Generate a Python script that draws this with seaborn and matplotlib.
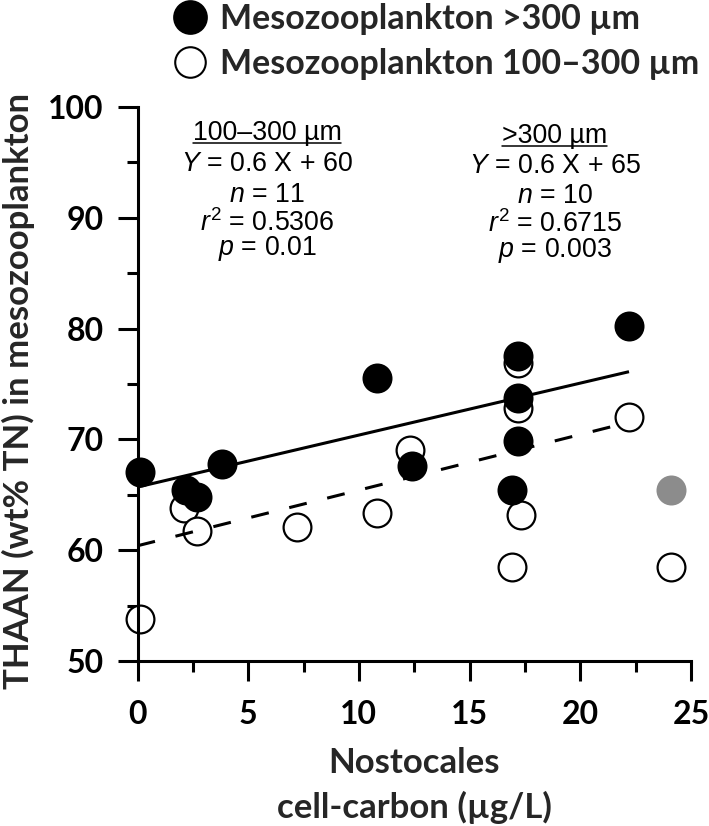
import numpy as np
import matplotlib
matplotlib.use("Agg")
import matplotlib.pyplot as plt
from matplotlib.lines import Line2D
from matplotlib.ticker import MultipleLocator
import seaborn as sns

# ---------------------------------------------------------------------------
# data
# ---------------------------------------------------------------------------
large_x = [0.1, 2.2, 2.7, 3.8, 10.8, 12.4, 16.9, 17.2, 17.2, 17.2, 22.2]
large_y = [67.1, 65.4, 64.8, 67.8, 75.5, 67.6, 65.4, 69.9, 73.7, 77.5, 80.2]

small_x = [0.1, 2.1, 2.7, 7.2, 10.8, 12.3, 16.9, 17.3, 17.2, 17.2, 22.2, 24.1]
small_y = [53.8, 63.8, 61.7, 62.1, 63.4, 69.0, 58.5, 63.2, 72.8, 76.9, 72.0, 58.5]

excluded_x = [24.1]
excluded_y = [65.4]

# fitted lines as drawn: (intercept, slope, x_end)
fit_large = (65.7, 0.469, 22.2)
fit_small = (60.4, 0.502, 21.7)

stats_small = ["100\u2013300 \u00b5m", "$Y$ = 0.6 X + 60", "$n$ = 11",
               "$r^2$ = 0.5306", "$p$ = 0.01"]
stats_large = [">300 \u00b5m", "$Y$ = 0.6 X + 65", "$n$ = 10",
               "$r^2$ = 0.6715", "$p$ = 0.003"]

legend_labels = ["Mesozooplankton >300 \u00b5m", "Mesozooplankton 100\u2013300 \u00b5m"]

# ---------------------------------------------------------------------------
# style
# ---------------------------------------------------------------------------
sns.set_style("ticks")
plt.rcParams['font.family'] = ['Lato', 'DejaVu Sans']
plt.rcParams['mathtext.fontset'] = 'custom'
plt.rcParams['mathtext.rm'] = 'Liberation Sans'
plt.rcParams['mathtext.it'] = 'Liberation Sans:italic'

W, H = 709, 826
fig = plt.figure(figsize=(W / 100, H / 100), dpi=100)
L, R, T, B = 137.5, 691, 107, 661
ax = fig.add_axes([L / W, 1 - B / H, (R - L) / W, (B - T) / H])

LW = 2.2
MS = 400

sns.scatterplot(x=small_x, y=small_y, color='white', edgecolor='black',
                linewidth=1.6, s=MS, ax=ax, clip_on=False, zorder=2)
sns.scatterplot(x=large_x, y=large_y, color='black', edgecolor='black',
                linewidth=1.6, s=MS, ax=ax, clip_on=False, zorder=3)
sns.scatterplot(x=excluded_x, y=excluded_y, color='#8c8c8c', edgecolor='#8c8c8c',
                linewidth=1.6, s=MS, ax=ax, clip_on=False, zorder=3)

for (b0, b1, xe), ls in [(fit_large, '-'), (fit_small, (0, (5.9, 6.9)))]:
    xs = np.array([0, xe])
    ax.plot(xs, b0 + b1 * xs, color='black', lw=LW, linestyle=ls, zorder=4,
            solid_capstyle='butt', dash_capstyle='butt')

ax.set_xlim(0, 25)
ax.set_ylim(50, 100)
ax.xaxis.set_major_locator(MultipleLocator(5))
ax.xaxis.set_minor_locator(MultipleLocator(2.5))
ax.yaxis.set_major_locator(MultipleLocator(10))
ax.yaxis.set_minor_locator(MultipleLocator(5))
ax.tick_params(which='major', length=14.4, width=LW, labelsize=23,
               color='black', labelcolor='black')
ax.tick_params(axis='x', which='major', pad=14)
ax.tick_params(axis='y', which='major', pad=10)
ax.tick_params(which='minor', length=7.6, width=LW, color='black')
for lab in ax.get_xticklabels() + ax.get_yticklabels():
    lab.set_fontweight('bold')
sns.despine(ax=ax)
for sp in ['left', 'bottom']:
    ax.spines[sp].set_linewidth(LW)
    ax.spines[sp].set_color('black')

ax.set_xlabel("Nostocales\ncell-carbon (\u00b5g/L)", fontsize=25,
              fontweight='bold', linespacing=1.46)
ax.set_ylabel("THAAN (wt% TN) in mesozooplankton", fontsize=25,
              fontweight='bold')
ax.xaxis.set_label_coords(0.5, -0.155)
ax.yaxis.set_label_coords(-0.186, 0.487)

# regression statistics
base_small = [0.9404, 0.885, 0.829, 0.7767, 0.7329]
base_large = [0.9345, 0.8814, 0.8273, 0.7749, 0.7298]
heads = []
for xc, lines, bases in [(0.234, stats_small, base_small),
                         (0.754, stats_large, base_large)]:
    for i, (s, yb) in enumerate(zip(lines, bases)):
        t = ax.text(xc, yb, s, transform=ax.transAxes, ha='center',
                    va='baseline', fontsize=19.3, fontweight='normal',
                    family='Liberation Sans', color='black')
        if i == 0:
            heads.append(t)

# legend at top
handles = [Line2D([], [], marker='o', ls='none', markersize=23.5,
                  markerfacecolor='black', markeredgecolor='black',
                  markeredgewidth=1.5),
           Line2D([], [], marker='o', ls='none', markersize=22,
                  markerfacecolor='white', markeredgecolor='black',
                  markeredgewidth=1.5)]
leg = fig.legend(handles, legend_labels, loc='upper left',
                 bbox_to_anchor=(173 / W, 1 - 3 / H), frameon=False,
                 prop={'size': 24.5, 'weight': 'bold'},
                 handlelength=1.0, handletextpad=0.38,
                 borderpad=0, borderaxespad=0, labelspacing=0.39)

# underline the statistics headers
fig.canvas.draw()
r = fig.canvas.get_renderer()
for t in heads:
    bb = t.get_window_extent(r)
    _, yb = ax.transAxes.transform((0, t.get_position()[1]))
    y = yb - 2.5
    fig.add_artist(Line2D([bb.x0 / W, bb.x1 / W], [y / H, y / H], color='black',
                          lw=1.1, transform=fig.transFigure))

fig.savefig("out.png", dpi=100)
